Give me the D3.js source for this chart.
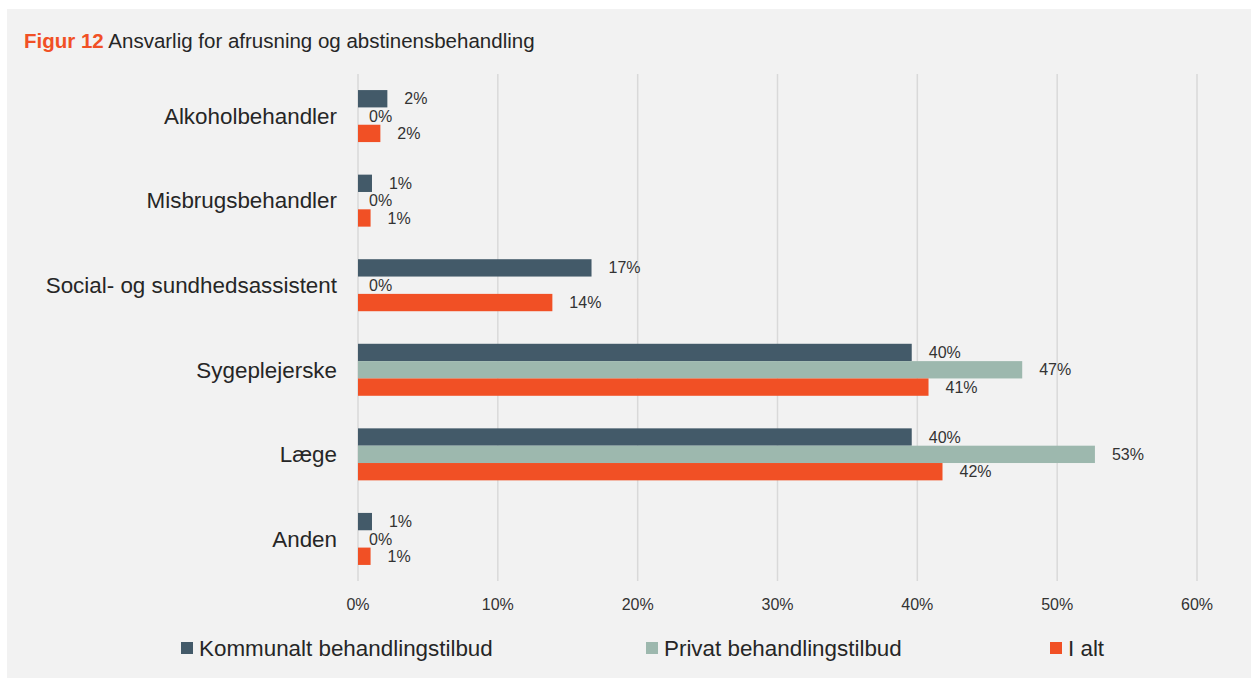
<!DOCTYPE html>
<html>
<head>
<meta charset="utf-8">
<script src="https://cdn.jsdelivr.net/npm/d3@7"></script>
<style>
  html, body { margin: 0; padding: 0; background: #ffffff; }
  svg { display: block; font-family: "Liberation Sans", Arial, Helvetica, sans-serif; }
</style>
</head>
<body>
<svg id="chart" width="1251" height="678"></svg>
<script>
// ---- data ----
const categories = ['Alkoholbehandler', 'Misbrugsbehandler', 'Social- og sundhedsassistent', 'Sygeplejerske', 'Læge', 'Anden'];
const seriesNames = ['Kommunalt behandlingstilbud', 'Privat behandlingstilbud', 'I alt'];
const kommunalt = [2.1, 1.0, 16.7, 39.6, 39.6, 1.0];
const privat    = [0, 0, 0, 47.5, 52.7, 0];
const iAlt      = [1.6, 0.9, 13.9, 40.8, 41.8, 0.9];
const labelsKommunalt = ['2%', '1%', '17%', '40%', '40%', '1%'];
const labelsPrivat    = ['0%', '0%', '0%', '47%', '53%', '0%'];
const labelsIAlt      = ['2%', '1%', '14%', '41%', '42%', '1%'];
const xTicks = [0, 10, 20, 30, 40, 50, 60];

const colors = ['#435a69', '#9db8ae', '#f15025'];
const seriesValues = [kommunalt, privat, iAlt];
const seriesLabels = [labelsKommunalt, labelsPrivat, labelsIAlt];

const svg = d3.select('#chart');

// panel background
svg.append('rect')
    .attr('x', 7).attr('y', 9)
    .attr('width', 1251 - 7).attr('height', 678 - 9)
    .attr('fill', '#f2f2f2');

// title
const title = svg.append('text')
    .attr('x', 24).attr('y', 48)
    .attr('font-size', 20.5);
title.append('tspan').attr('fill', '#f15025').attr('font-weight', 'bold').text('Figur 12');
title.append('tspan').attr('fill', '#262626').text(' Ansvarlig for afrusning og abstinensbehandling');

// scales
const x = d3.scaleLinear().domain([0, 60]).range([358, 1197]);
const y = d3.scaleBand().domain(categories).range([74, 581])
    .paddingInner(0.385).paddingOuter(0.19);
const ySub = d3.scaleBand().domain(d3.range(seriesNames.length)).range([0, y.bandwidth()]);

// gridlines
svg.append('g')
    .selectAll('line')
    .data(xTicks)
    .join('line')
    .attr('x1', d => x(d)).attr('x2', d => x(d))
    .attr('y1', 74).attr('y2', 581)
    .attr('stroke', '#d9d9d9')
    .attr('stroke-width', 1.5);

// x tick labels
svg.append('g')
    .selectAll('text')
    .data(xTicks)
    .join('text')
    .attr('x', d => x(d))
    .attr('y', 610)
    .attr('text-anchor', 'middle')
    .attr('font-size', 16)
    .attr('fill', '#333')
    .text(d => d + '%');

// category labels
svg.append('g')
    .selectAll('text')
    .data(categories)
    .join('text')
    .attr('x', 337)
    .attr('y', d => y(d) + y.bandwidth() / 2)
    .attr('dy', '0.35em')
    .attr('text-anchor', 'end')
    .attr('font-size', 22.4)
    .attr('fill', '#262626')
    .text(d => d);

// bars + labels
seriesValues.forEach((vals, si) => {
    const g = svg.append('g');
    g.selectAll('rect')
        .data(categories)
        .join('rect')
        .attr('x', x(0))
        .attr('y', (c) => y(c) + ySub(si))
        .attr('width', (c, i) => x(vals[i]) - x(0))
        .attr('height', ySub.bandwidth())
        .attr('fill', colors[si]);
    g.selectAll('text')
        .data(categories)
        .join('text')
        .attr('x', (c, i) => x(vals[i]) + (vals[i] > 0 ? 17 : 11))
        .attr('y', c => y(c) + ySub(si) + ySub.bandwidth() / 2)
        .attr('dy', '0.35em')
        .attr('font-size', 16)
        .attr('fill', '#333')
        .text((c, i) => seriesLabels[si][i]);
});

// legend
const legendX = [181, 646, 1050];
const legend = svg.append('g')
    .selectAll('g')
    .data(seriesNames)
    .join('g')
    .attr('transform', (d, i) => `translate(${legendX[i]},648)`);
legend.append('rect')
    .attr('x', 0).attr('y', -6)
    .attr('width', 12).attr('height', 12)
    .attr('fill', (d, i) => colors[i]);
legend.append('text')
    .attr('x', 18)
    .attr('dy', '0.35em')
    .attr('font-size', 22.4)
    .attr('fill', '#262626')
    .text(d => d);
</script>
</body>
</html>
